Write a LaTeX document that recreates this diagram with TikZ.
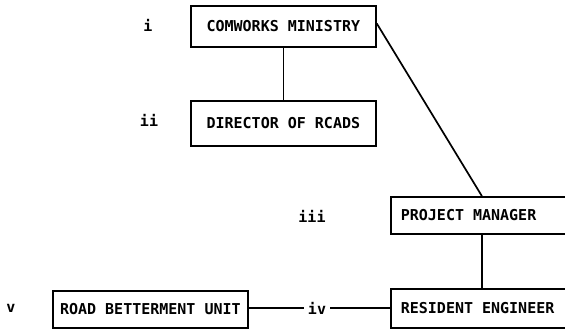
\documentclass[tikz,border=0pt]{standalone}
\usepackage{fontspec}
\setmonofont{DejaVu Sans Mono}
\usepackage{tikz}

\tikzset{
	unit/.style={draw, line width=1.7pt, inner sep=0pt, font=\ttfamily\bfseries\fontsize{15}{17}\selectfont},
	leftunit/.style={unit, inner xsep=10pt},
	level/.style={inner sep=1pt, font=\ttfamily\bfseries\fontsize{15}{17}\selectfont},
	link/.style={line width=1.7pt}
}

\begin{document}
\begin{tikzpicture}[x=1pt, y=-1pt]

% frame of the page
	\useasboundingbox (0,0) rectangle (565,330);
	\clip (0,0) rectangle (565,330);

% draw units
	\node[unit, minimum width=185pt, minimum height=41pt, anchor=north west] (ministry) at (190,5) {COMWORKS MINISTRY};
	\node[unit, minimum width=185pt, minimum height=45pt, anchor=north west] (director) at (190,100) {DIRECTOR OF RCADS};
	\node[leftunit, minimum width=182pt, minimum height=37pt, anchor=north west] (manager) at (390,196) {\makebox[162pt][l]{PROJECT MANAGER}};
	\node[leftunit, minimum width=182pt, minimum height=39pt, anchor=north west] (engineer) at (390,288) {\makebox[162pt][l]{RESIDENT ENGINEER}};
	\node[unit, minimum width=195pt, minimum height=37pt, anchor=north west] (betterment) at (52,290) {ROAD BETTERMENT UNIT};

% level numbers
	\node[level] (li) at (148,25) {i};
	\node[level] (lii) at (149,120) {ii};
	\node[level] (liii) at (312,216) {iii};
	\node[level, inner xsep=4pt] (liv) at (317,308) {iv};
	\node[level] (lv) at (11,308) {v};

% draw links
	\draw[link] (ministry.south) -- (director.north);
	\draw[link] ([yshift=3pt]ministry.east) -- (manager.north);
	\draw[link] (manager.south) -- (engineer.north);
	\draw[link] (betterment.east |- liv.west) -- (liv.west);
	\draw[link] (liv.east) -- (engineer.west |- liv.east);

\end{tikzpicture}
\end{document}
